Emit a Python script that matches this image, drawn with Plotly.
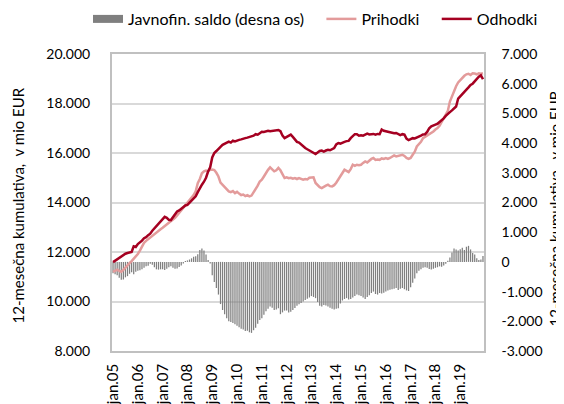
import plotly.graph_objects as go

months = ["jan", "feb", "mar", "apr", "maj", "jun", "jul", "avg", "sep", "okt", "nov", "dec"]
years = list(range(2005, 2020))
categories = [f"{m}.{str(y)[2:]}" for y in years for m in months]
tick_labels = [f"jan.{str(y)[2:]}" for y in years]

# Odhodki (expenditure), 12-month cumulative, mio EUR
odhodki = [
    11590, 11650, 11700, 11760, 11820, 11900, 11930, 11960, 11980, 12000, 12230, 12200,
    12320, 12380, 12460, 12560, 12600, 12680, 12740, 12860, 12950, 13060, 13150, 13200,
    13330, 13420, 13380, 13300, 13290, 13420, 13520, 13640, 13680, 13760, 13800, 13880,
    13900, 13990, 14080, 14140, 14250, 14420, 14600, 14720, 14840, 15000, 15250, 15420,
    15820, 16000, 16080, 16150, 16250, 16330, 16380, 16440, 16460, 16420, 16500, 16470,
    16510, 16530, 16550, 16560, 16600, 16620, 16640, 16680, 16700, 16760, 16740, 16800,
    16860, 16850, 16880, 16900, 16880, 16900, 16920, 16910, 16930, 16880, 16700, 16600,
    16650, 16720, 16740, 16650, 16560, 16450, 16420, 16350, 16250, 16200, 16150, 16100,
    16050, 15990, 15960, 16020, 16080, 16100, 16060, 16100, 16130, 16110, 16140, 16200,
    16350, 16400, 16380, 16400, 16450, 16480, 16490, 16600, 16680, 16760, 16760, 16700,
    16720, 16700, 16740, 16780, 16750, 16760, 16770, 16740, 16770, 16760, 16950, 16900,
    16880, 16860, 16840, 16830, 16800, 16810, 16760, 16720, 16760, 16740, 16580, 16520,
    16560, 16600, 16590, 16620, 16640, 16700, 16750, 16760, 16850, 17000, 17080, 17100,
    17150, 17180, 17250, 17330, 17400, 17500, 17560, 17650, 17720, 17800, 17880, 18200,
    18300, 18400, 18500, 18560, 18650, 18750, 18800, 18900, 19000, 19080, 19140, 18980,
]

# Prihodki (revenue), 12-month cumulative, mio EUR
prihodki = [
    11200, 11250, 11290, 11240, 11200, 11280, 11380, 11450, 11550, 11630, 11720, 11830,
    11920, 12060, 12200, 12370, 12450, 12520, 12600, 12680, 12740, 12790, 12850, 12920,
    12980, 13050, 13120, 13170, 13230, 13300, 13380, 13480, 13580, 13700, 13820, 13900,
    13980, 14080, 14200, 14300, 14450, 14780, 14950, 15180, 15260, 15290, 15260, 15320,
    15330, 15310, 15200, 15050, 14800, 14720, 14620, 14520, 14450, 14420, 14460, 14380,
    14430, 14360, 14300, 14320, 14260, 14300, 14250, 14280, 14400, 14520, 14680, 14850,
    14920, 15050, 15200, 15320, 15420, 15350, 15260, 15300, 15400, 15300, 15150, 14990,
    15020, 14980, 15000, 14960, 14990, 14950, 14990, 14970, 14920, 14950, 14930, 15000,
    15010, 15020, 14790, 14700, 14620, 14580, 14640, 14680, 14720, 14660, 14650, 14700,
    14800, 14920, 15050, 15200, 15325, 15280, 15230, 15350, 15525, 15480, 15525, 15510,
    15525, 15600, 15660, 15620, 15700, 15760, 15795, 15720, 15740, 15725, 15780, 15760,
    15795, 15760, 15800, 15850, 15900, 15860, 15880, 15900, 15930, 15880, 15800, 15765,
    15800, 15930, 16050, 16265, 16350, 16450, 16600, 16650, 16700, 16760, 16800, 16870,
    16950, 17005, 17100, 17250, 17400, 17540, 17700, 18080, 18300, 18550, 18700, 18850,
    18950, 19050, 19120, 19180, 19200, 19150, 19220, 19210, 19180, 19220, 19200, 19220,
]

# Javnofin. saldo (general government balance), right axis, mio EUR
saldo = [
    -380, -420, -450, -530, -600, -590, -520, -480, -400, -350, -420, -330,
    -300, -280, -250, -200, -150, -130, -60, -100, -180, -250, -260, -250,
    -250, -270, -230, -180, -150, -200, -230, -220, -170, -120, -50, 30,
    50, 80, 120, 170, 190, 260, 400, 450, 380, 250, 60, -50,
    -450, -680, -880, -1100, -1420, -1620, -1760, -1900, -2000, -2020, -2060, -2100,
    -2150, -2200, -2250, -2280, -2330, -2320, -2370, -2390, -2300, -2220, -2080, -1960,
    -1900, -1780, -1660, -1580, -1500, -1540, -1620, -1600, -1560, -1760, -1700, -1640,
    -1640, -1700, -1680, -1620, -1550, -1480, -1430, -1380, -1330, -1280, -1240, -1200,
    -1150, -1180, -1220, -1350, -1480, -1500, -1450, -1470, -1500, -1540, -1580, -1600,
    -1580, -1560, -1400, -1300, -1250, -1220, -1270, -1250, -1200, -1150, -1100, -1120,
    -1150, -1200, -1250, -1180, -1120, -1050, -1000, -1080, -1100, -1050, -1060, -1040,
    -1000, -960, -940, -920, -900, -880, -950, -900, -880, -920, -960, -980,
    -850, -700, -560, -380, -300, -250, -200, -180, -200, -240, -260, -230,
    -200, -180, -150, -160, -120, -60, 40, 150, 320, 450, 420, 380,
    430, 480, 400, 510, 540, 420, 300, 250, 120, 60, 80, 200,
]

left_ticks = [8000, 10000, 12000, 14000, 16000, 18000, 20000]
right_ticks = [-3000, -2000, -1000, 0, 1000, 2000, 3000, 4000, 5000, 6000, 7000]


def fmt(v):
    s = f"{abs(v):,}".replace(",", ".")
    return ("-" if v < 0 else "") + s


FONT = "Lato"
TXT = "#000000"
GRID = "#D9D9D9"
FRAME = "#C0C0C0"
BAR = "rgba(127,127,127,0.999)"
NB = "\u00a0"

fig = go.Figure()
fig.add_trace(go.Bar(
    x=categories, y=saldo, name="Javnofin. saldo (desna os)",
    marker=dict(color=BAR, line=dict(width=0)), yaxis="y", showlegend=False,
))
# legend entry for the bars (wide rectangle like the original legend key)
fig.add_trace(go.Scatter(
    x=[categories[0]], y=[None], name="Javnofin. saldo (desna os)" + NB * 3, mode="lines",
    line=dict(color="#7F7F7F", width=8), yaxis="y", hoverinfo="skip",
))
fig.add_trace(go.Scatter(
    x=categories, y=prihodki, name="Prihodki" + NB * 3, mode="lines",
    line=dict(color="#E39B9B", width=2.5), yaxis="y2",
))
fig.add_trace(go.Scatter(
    x=categories, y=odhodki, name="Odhodki", mode="lines",
    line=dict(color="#A50021", width=2.5), yaxis="y2",
))

title_txt = "12-mesečna kumulativa,  v mio EUR"
L, R, T, B = 104, 88, 46, 61
PW = 564 - L - R
PH = 404 - T - B

fig.update_layout(
    width=564, height=404,
    margin=dict(l=L, r=R, t=T, b=B, autoexpand=False),
    paper_bgcolor="white", plot_bgcolor="white",
    font=dict(family=FONT, size=14, color=TXT),
    bargap=0.4,
    showlegend=True,
    legend=dict(
        orientation="h",
        x=(80 - L) / PW, xanchor="left", y=1 + (T + 6) / PH, yanchor="top",
        font=dict(family=FONT, size=16, color=TXT),
        traceorder="normal", itemwidth=30, bgcolor="rgba(0,0,0,0)",
        tracegroupgap=0,
    ),
    xaxis=dict(
        type="category", categoryorder="array", categoryarray=categories,
        tickmode="array", tickvals=tick_labels, ticktext=tick_labels,
        tickangle=-90, showgrid=False, ticks="outside", ticklen=5,
        tickcolor="rgba(0,0,0,0)",
        showline=True, linecolor=FRAME, linewidth=1.5, mirror=True,
        tickfont=dict(family=FONT, size=15, color=TXT),
        range=[-0.5, len(categories) - 0.5], automargin=False,
    ),
    yaxis=dict(
        side="right", range=[-3000, 7000],
        tickmode="array", tickvals=right_ticks, ticktext=[fmt(v) for v in right_ticks],
        showgrid=False, zeroline=False, ticks="outside", ticklen=13,
        tickcolor="rgba(0,0,0,0)",
        showline=True, linecolor=FRAME, linewidth=1.5, mirror=True,
        tickfont=dict(family=FONT, size=14, color=TXT), automargin=False,
    ),
    yaxis2=dict(
        side="left", overlaying="y", range=[8000, 20000],
        tickmode="array", tickvals=left_ticks, ticktext=[fmt(v) for v in left_ticks],
        showgrid=True, gridcolor=GRID, gridwidth=1.5, zeroline=False,
        ticks="outside", ticklen=18, tickcolor="rgba(0,0,0,0)",
        tickfont=dict(family=FONT, size=14, color=TXT), automargin=False,
    ),
    annotations=[
        dict(text=title_txt, xref="paper", yref="paper",
             x=(10 - L) / PW, y=0.49, xanchor="center", yanchor="middle",
             textangle=-90, showarrow=False,
             font=dict(family=FONT, size=15, color=TXT)),
        dict(text=title_txt, xref="paper", yref="paper",
             x=(547 - L) / PW, y=0.48, xanchor="center", yanchor="middle",
             textangle=-90, showarrow=False,
             font=dict(family=FONT, size=15, color=TXT)),
    ],
)

fig.write_html("out.html")
